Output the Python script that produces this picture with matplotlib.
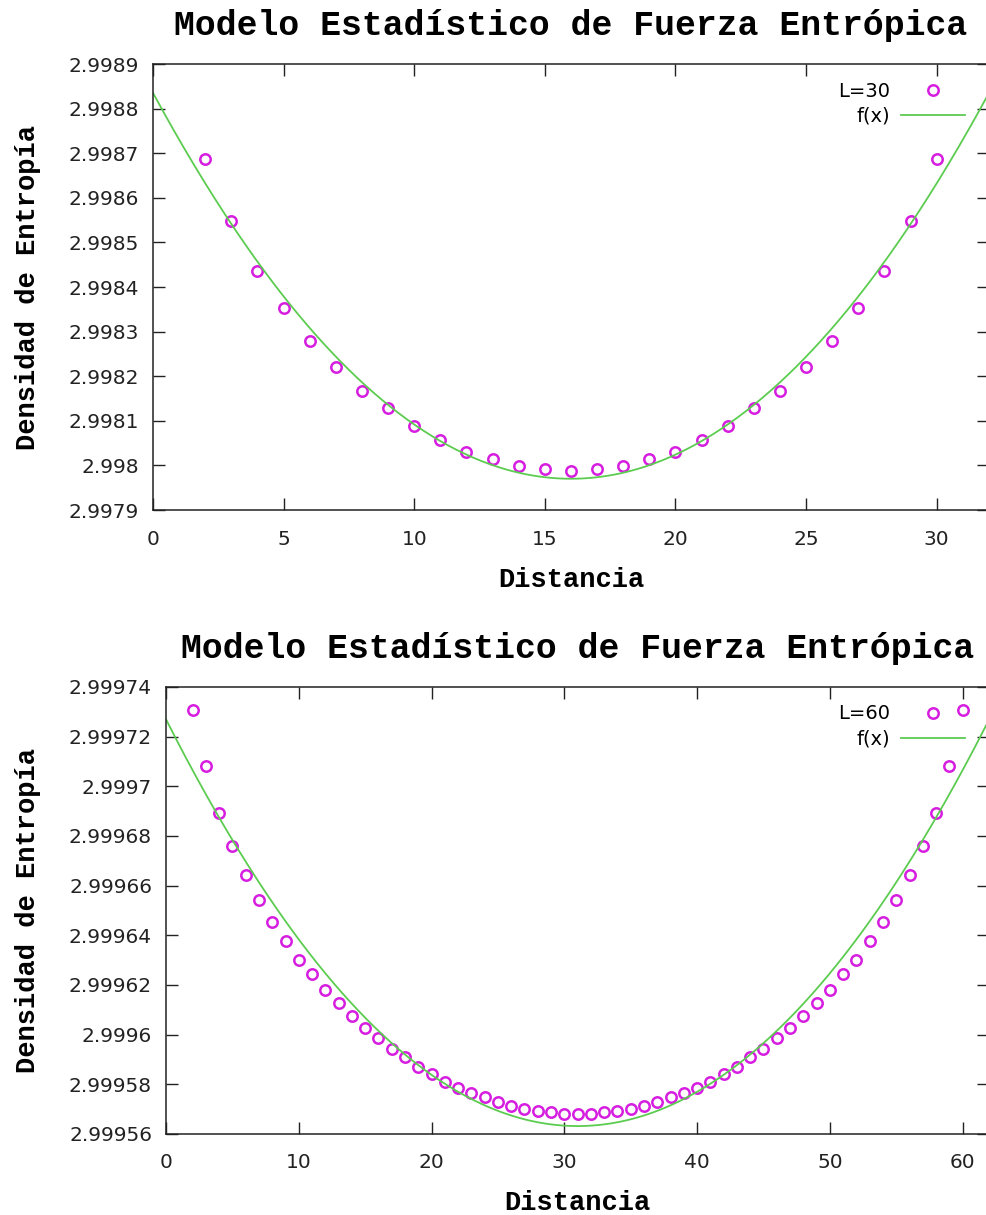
import numpy as np
import matplotlib
matplotlib.use('Agg')
import matplotlib.pyplot as plt
from matplotlib.ticker import FuncFormatter, MultipleLocator

# L=30 data (x = 2..30)
x30 = np.arange(2, 31)
y30 = [2.998688, 2.998548, 2.998437, 2.998354, 2.998279, 2.998221, 2.998168,
       2.998128, 2.998089, 2.998056, 2.998031, 2.998014, 2.997999, 2.997992,
       2.997988,
       2.997992, 2.997999, 2.998014, 2.998031, 2.998056, 2.998089, 2.998128,
       2.998168, 2.998221, 2.998279, 2.998354, 2.998437, 2.998548, 2.998688]

# L=60 data (x = 2..60)
x60 = np.arange(2, 61)
y60_left = [2.9997307, 2.9997082, 2.9996894, 2.9996759, 2.9996643, 2.9996544,
            2.9996455, 2.9996377, 2.9996301, 2.9996243, 2.9996179, 2.9996126,
            2.9996075, 2.9996026, 2.9995987, 2.9995941, 2.9995909, 2.9995871,
            2.9995843, 2.9995811, 2.9995784, 2.9995766, 2.9995748, 2.9995729,
            2.9995714, 2.9995700, 2.9995693, 2.9995687, 2.9995682]
y60_mid = 2.9995680
y60 = y60_left + [y60_mid] + y60_left[::-1]

title = 'Modelo Estadístico de Fuerza Entrópica'
mono = 'Liberation Mono'
sans = 'DejaVu Sans'
c_pts = '#d61ee0'
c_fit = '#5ccc50'


def fmt(dec):
    return FuncFormatter(lambda v, p: f'{v:.{dec}f}'.rstrip('0').rstrip('.'))


def panel(ax, x, y, label, xmax, xstep, ylim, ystep, dec):
    coef = np.polyfit(x, y, 2)  # quadratic fit f(x)
    xs = np.linspace(0, xmax, 400)
    ax.plot(x, y, 'o', ms=7.5, mfc='none', mec=c_pts, mew=1.8, label=label)
    ax.plot(xs, np.polyval(coef, xs), color=c_fit, lw=1.3, label='f(x)')
    ax.set_xlim(0, xmax)
    ax.set_ylim(*ylim)
    ax.xaxis.set_major_locator(MultipleLocator(xstep))
    ax.yaxis.set_major_locator(MultipleLocator(ystep))
    ax.yaxis.set_major_formatter(fmt(dec))
    ax.tick_params(direction='in', length=8.5, width=1, top=True, right=True,
                   labelsize=14.5, colors='#222222', labelcolor='#222222')
    ax.tick_params(axis='x', pad=14)
    ax.tick_params(axis='y', pad=10)
    for lab in ax.get_xticklabels() + ax.get_yticklabels():
        lab.set_family(sans)
    for s in ax.spines.values():
        s.set_linewidth(1.1)
        s.set_color('#222222')
    ax.set_title(title, family=mono, weight='bold', fontsize=25, pad=21)
    ax.set_xlabel('Distancia', family=mono, weight='bold', fontsize=19.5, labelpad=13)
    ax.set_ylabel('Densidad de Entropía', family=mono, weight='bold', fontsize=19.5, labelpad=20)
    ax.legend(loc='upper right', bbox_to_anchor=(0.992, 1.0), frameon=False,
              markerfirst=False, handlelength=3.3, handletextpad=0.55,
              labelspacing=0.32, borderpad=0.4, prop={'family': sans, 'size': 14})


fig = plt.figure(figsize=(9.87, 12.15), dpi=100)
ax1 = fig.add_axes([0.155, 0.5802, 0.847, 0.3671])
ax2 = fig.add_axes([0.1682, 0.0667, 0.834, 0.3679])

panel(ax1, x30, y30, 'L=30', 32, 5, (2.9979, 2.9989), 0.0001, 4)
panel(ax2, x60, y60, 'L=60', 62, 10, (2.99956, 2.99974), 0.00002, 5)

fig.savefig('out.png', dpi=100)
